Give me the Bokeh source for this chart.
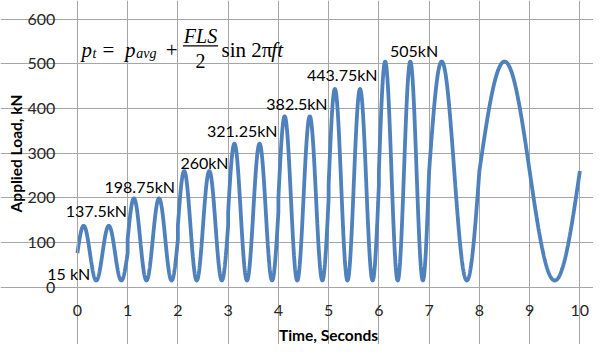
import numpy as np
from bokeh.plotting import figure
from bokeh.models import Label, FixedTicker
from bokeh.embed import file_html
from bokeh.resources import INLINE

# ---- data ----
seg_start = [0, 1, 2, 3, 4, 5, 6, 7, 8]            # s
seg_end = [1, 2, 3, 4, 5, 6, 7, 8, 10]             # s
seg_peak = [137.5, 198.75, 260, 321.25, 382.5, 443.75, 505, 505, 505]  # kN
seg_freq = [2, 2, 2, 2, 2, 2, 2, 1, 0.5]           # Hz
min_load = 15                                      # kN

peak_labels = ["137.5kN", "198.75kN", "260kN", "321.25kN", "382.5kN", "443.75kN", "505kN"]
label_x = [-0.23, 0.54, 2.05, 2.58, 3.76, 4.57, 6.22]
label_y = [171, 225, 280, 351, 411, 477, 530]
min_label = "15 kN"

x_ticks = list(range(0, 11))
y_ticks = list(range(0, 601, 100))

# ---- curve from p_t = p_avg + FLS/2 sin(2 pi f t) per loading block ----
ts, ps = [], []
for s, e, pk, f in zip(seg_start, seg_end, seg_peak, seg_freq):
    t = np.linspace(s, e, 400)
    p_avg = (pk + min_load) / 2.0
    fls = pk - min_load
    ts.append(t)
    ps.append(p_avg + fls / 2.0 * np.sin(2 * np.pi * f * (t - s)))
t_all = np.concatenate(ts)
p_all = np.concatenate(ps)

FONT = "Lato"
TXT = "#262626"
GRID = "#A6A6A6"

# the frame fills the canvas; axes are pinned at t=0 / load=0 so nothing gets clipped
p = figure(width=593, height=344, x_range=(-1.530, 10.271), y_range=(-128.2, 641.6),
           output_backend="svg", toolbar_location=None,
           min_border=0)

p.line(t_all, p_all, line_color="#4F81BD", line_width=3.8)

for ax in (p.xaxis, p.yaxis):
    ax.major_tick_line_color = None
    ax.minor_tick_line_color = None
    ax.axis_line_color = GRID
    ax.major_label_text_font = FONT
    ax.major_label_text_font_size = "16px"
    ax.major_label_text_color = TXT
    ax.axis_label_text_font = FONT
    ax.axis_label_text_font_size = "15.5px"
    ax.axis_label_text_font_style = "bold"
    ax.axis_label_text_color = "#000000"

p.xaxis.ticker = FixedTicker(ticks=x_ticks)
p.yaxis.ticker = FixedTicker(ticks=y_ticks)
p.xgrid.ticker = FixedTicker(ticks=x_ticks)
p.ygrid.ticker = FixedTicker(ticks=y_ticks)
p.xaxis.bounds = (0, 10)
p.yaxis.bounds = (0, 600)
p.xaxis.fixed_location = 0
p.yaxis.fixed_location = 0
p.xgrid.bounds = (0, 600)
p.ygrid.bounds = (0, 10)
p.xaxis.axis_label = "Time, Seconds"
p.yaxis.axis_label = "Applied Load, kN"
p.xaxis.major_label_standoff = 12
p.yaxis.major_label_standoff = 16
p.xaxis.axis_label_standoff = 6
p.yaxis.axis_label_standoff = 0

p.xgrid.grid_line_color = GRID
p.ygrid.grid_line_color = GRID
p.outline_line_color = None
p.background_fill_color = "white"
p.border_fill_color = "white"

for txt, lx, ly in zip(peak_labels, label_x, label_y):
    p.add_layout(Label(x=lx, y=ly, text=txt, text_font=FONT, text_font_size="16px",
                       text_color="#000000", text_baseline="middle", text_align="left"))
p.add_layout(Label(x=-0.60, y=30, text=min_label, text_font=FONT, text_font_size="16px",
                   text_color="#000000", text_baseline="middle", text_align="left"))

# ---- equation annotation ----
SERIF = "Liberation Serif"
eq_parts = [
    # text, x, y, size, style, align
    ("p", 0.08, 530, "21px", "italic", "left"),
    ("t", 0.30, 522, "14px", "italic", "left"),
    ("=", 0.50, 530, "21px", "normal", "left"),
    ("p", 0.95, 530, "21px", "italic", "left"),
    ("avg", 1.17, 522, "14px", "italic", "left"),
    ("+", 1.76, 530, "21px", "normal", "left"),
    ("FLS", 2.45, 563, "20px", "italic", "center"),
    ("2", 2.45, 506, "20px", "normal", "center"),
    ("sin 2π", 2.87, 530, "21px", "normal", "left"),
    ("ft", 3.86, 530, "21px", "italic", "left"),
]
for txt, ex, ey, sz, st, al in eq_parts:
    p.add_layout(Label(x=ex, y=ey, text=txt, text_font=SERIF, text_font_size=sz,
                       text_font_style=st, text_align=al, text_baseline="alphabetic",
                       text_color="#000000"))
bar_x0, bar_x1, bar_y = 2.10, 2.80, 540
p.segment(x0=[bar_x0], y0=[bar_y], x1=[bar_x1], y1=[bar_y], line_color="#000000", line_width=1.3)

open("out.html", "w").write(file_html(p, INLINE))
